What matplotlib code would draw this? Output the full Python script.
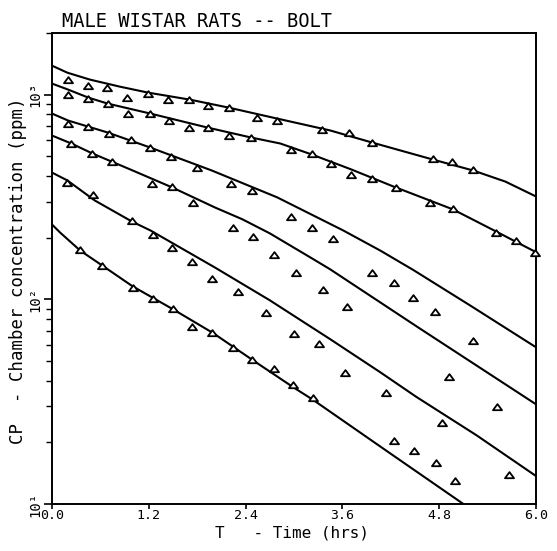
import matplotlib
matplotlib.use("Agg")
import matplotlib.pyplot as plt
from matplotlib.path import Path
from matplotlib.ticker import FixedLocator, LogLocator, NullFormatter, FixedFormatter

# ---- model curves (time in hrs, chamber concentration in ppm) ----
c1_t = [0, 0.19, 0.47, 0.84, 1.19, 1.71, 2.19, 2.79, 3.45, 3.97, 4.72, 5.22, 5.62, 6.0]
c1_y = [1385, 1280, 1184, 1094, 1023, 945, 864, 764, 668, 583, 482, 426, 376, 318]

c2_t = [0, 0.20, 0.45, 0.69, 1.22, 1.93, 2.47, 2.83, 3.22, 3.71, 4.23, 4.97, 5.50, 5.74, 6.0]
c2_y = [1132, 1058, 967, 904, 808, 690, 617, 577, 510, 431, 356, 275, 215, 192, 170]

c3_t = [0, 0.20, 0.69, 1.22, 1.98, 2.79, 3.61, 4.07, 4.48, 5.18, 6.0]
c3_y = [808, 747, 653, 551, 426, 315, 217, 173, 139, 93.5, 58.3]

c4_t = [0, 0.24, 0.50, 0.97, 1.49, 2.02, 2.36, 2.70, 3.24, 3.45, 4.56, 6.0]
c4_y = [631, 577, 516, 431, 352, 281, 246, 210, 157, 140, 72.0, 30.7]

c5_t = [0, 0.19, 0.53, 0.99, 1.22, 2.02, 2.70, 3.45, 4.07, 4.52, 5.26, 6.0]
c5_y = [416, 381, 304, 240, 217, 143, 98.9, 63.8, 44.0, 33.3, 21.7, 13.7]

c6_t = [0, 0.10, 0.35, 0.62, 1.00, 1.50, 2.00, 2.49, 2.99, 3.24, 4.19, 5.10]
c6_y = [232, 212, 173, 146.5, 115.7, 89.4, 68.3, 50.4, 37.2, 32.2, 17.7, 10.0]

# ---- observed data (triangles) ----
d1_t = [0.20, 0.45, 0.68, 0.93, 1.19, 1.44, 1.70, 1.93, 2.19, 2.54, 2.79, 3.35, 3.68, 3.97, 4.72, 4.96, 5.22]
d1_y = [1184, 1106, 1082, 967, 1011, 945, 945, 884, 864, 772, 747, 668, 653, 583, 487, 471, 426]

d2_t = [0.20, 0.45, 0.69, 0.94, 1.22, 1.45, 1.70, 1.93, 2.19, 2.47, 2.96, 3.22, 3.46, 3.71, 3.97, 4.26, 4.69, 4.97, 5.50, 5.75, 5.99]
d2_y = [1000, 956, 904, 808, 808, 747, 690, 690, 631, 617, 539, 510, 456, 403, 389, 348, 294, 275, 212, 192, 168]

d3_t = [0.20, 0.45, 0.71, 0.98, 1.22, 1.48, 1.80, 2.22, 2.48, 2.96, 3.22, 3.48, 3.97, 4.24, 4.48, 4.75, 5.22]
d3_y = [722, 698, 645, 603, 551, 498, 440, 364, 340, 251, 222, 196, 134, 120, 102, 86.4, 62.4]

d4_t = [0.24, 0.50, 0.74, 1.24, 1.49, 1.75, 2.24, 2.49, 2.75, 3.03, 3.36, 3.66, 4.92, 5.52]
d4_y = [577, 510, 466, 364, 352, 294, 222, 201, 164, 135, 111, 91.4, 41.7, 29.7]

d5_t = [0.19, 0.51, 0.99, 1.25, 1.49, 1.74, 1.98, 2.31, 2.65, 3.00, 3.31, 3.63, 4.14, 4.84, 5.67]
d5_y = [368, 325, 240, 205, 179, 152, 125, 108, 85.5, 67.5, 60.3, 43.6, 34.8, 24.8, 13.9]

d6_t = [0.35, 0.62, 1.00, 1.25, 1.50, 1.74, 1.98, 2.24, 2.48, 2.75, 2.99, 3.24, 4.24, 4.49, 4.76, 5.00]
d6_y = [175, 145, 114, 100, 89.4, 73.0, 68.3, 57.7, 50.4, 45.6, 38.1, 32.9, 20.3, 18.1, 15.8, 12.9]

x_ticks = [0.0, 1.2, 2.4, 3.6, 4.8, 6.0]
x_ticklabels = ["0.0", "1.2", "2.4", "3.6", "4.8", "6.0"]
y_ticks = [10, 100, 1000]
y_ticklabels = ["10\u00b9", "10\u00b2", "10\u00b3"]

title = "MALE WISTAR RATS -- BOLT"
xlabel = "T   - Time (hrs)"
ylabel = "CP  - Chamber concentration (ppm)"

MONO = "DejaVu Sans Mono"

fig = plt.figure(figsize=(5.57, 5.51), dpi=100)
ax = fig.add_axes([52 / 557, 1 - 504 / 551, (536 - 52) / 557, (504 - 33) / 551])

curves = [(c1_t, c1_y), (c2_t, c2_y), (c3_t, c3_y), (c4_t, c4_y), (c5_t, c5_y), (c6_t, c6_y)]
data = [(d1_t, d1_y), (d2_t, d2_y), (d3_t, d3_y), (d4_t, d4_y), (d5_t, d5_y), (d6_t, d6_y)]

tri = Path([(-1, -0.6), (1, -0.6), (0, 0.75), (-1, -0.6)],
           [Path.MOVETO, Path.LINETO, Path.LINETO, Path.CLOSEPOLY])

for t, y in curves:
    ax.plot(t, y, color="black", lw=1.5, solid_joinstyle="round")
for t, y in data:
    ax.plot(t, y, linestyle="none", marker=tri, markersize=6.5, markerfacecolor="white",
            markeredgecolor="black", markeredgewidth=1.3, clip_on=False, zorder=3)

ax.set_yscale("log")
ax.set_xlim(0, 6.0)
ax.set_ylim(10, 2000)

ax.xaxis.set_major_locator(FixedLocator(x_ticks))
ax.xaxis.set_major_formatter(FixedFormatter(x_ticklabels))
ax.yaxis.set_major_locator(FixedLocator(y_ticks))
ax.yaxis.set_major_formatter(FixedFormatter(y_ticklabels))
ax.yaxis.set_minor_locator(LogLocator(base=10, subs=range(2, 10)))
ax.yaxis.set_minor_formatter(NullFormatter())

for s in ax.spines.values():
    s.set_linewidth(1.4)

ax.tick_params(axis="x", which="major", direction="out", length=3.5, width=1.2, pad=0,
               labelsize=9.5, top=False)
ax.tick_params(axis="y", which="major", direction="out", length=6, width=1.2, pad=1,
               labelsize=10, right=False)
ax.tick_params(axis="y", which="minor", direction="out", length=4.5, width=1.0, right=False)

for lab in ax.get_xticklabels():
    lab.set_fontfamily(MONO)
for lab in ax.get_yticklabels():
    lab.set_fontfamily(MONO)
    lab.set_rotation(90)
    lab.set_va("center")

fig.text(62 / 557, 1 - 21.5 / 551, title, family=MONO, fontsize=13.5, ha="left", va="center")
fig.text(292 / 557, 1 - 538 / 551, xlabel, family=MONO, fontsize=11.5, ha="center", va="baseline")
fig.text(18 / 557, 1 - 271 / 551, ylabel, family=MONO, fontsize=12.5, ha="center", va="center",
         rotation=90)

fig.savefig("out.png", dpi=100)
